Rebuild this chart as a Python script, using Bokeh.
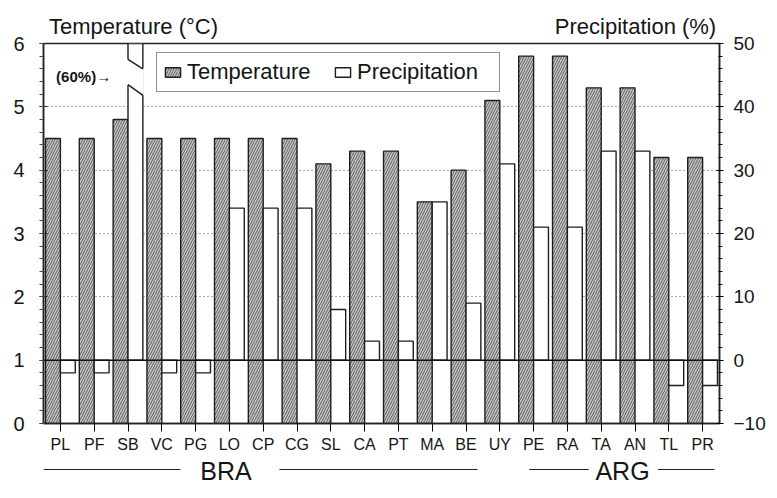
import numpy as np
from bokeh.plotting import figure
from bokeh.layouts import column
from bokeh.models import (Range1d, LinearAxis, SingleIntervalTicker, FixedTicker, Span,
                          Label, Legend, LegendItem, ColumnDataSource)
from bokeh.core.properties import value
from bokeh.embed import file_html
from bokeh.resources import INLINE

# ---------------- data ----------------
categories = ["PL", "PF", "SB", "VC", "PG", "LO", "CP", "CG", "SL", "CA",
              "PT", "MA", "BE", "UY", "PE", "RA", "TA", "AN", "TL", "PR"]
temperature = [4.5, 4.5, 4.8, 4.5, 4.5, 4.5, 4.5, 4.5, 4.1, 4.3,
               4.3, 3.5, 4.0, 5.1, 5.8, 5.8, 5.3, 5.3, 4.2, 4.2]
precipitation = [-2, -2, 60, -2, -2, 24, 24, 24, 8, 3,
                 3, 25, 9, 31, 21, 21, 33, 33, -4, -4]
groups = ["BRA"] * 13 + ["ARG"] * 7
temp_range = (0, 6)
precip_range = (-10, 50)
temp_title = "Temperature (\u00b0C)"
precip_title = "Precipitation (%)"

# ---------------- style ----------------
FONT = "Liberation Sans"
INK = "#151515"
BAR_W = 0.44
LEFT, RIGHT, FRAME_W, FRAME_H = 43, 42, 676, 380
TITLE_CENTERS_PX = (90, 592)   # centres of the two axis titles, px from frame left
n = len(categories)
idx = np.arange(n)
xr = Range1d(-0.5, n - 0.5)

# ---------------- main chart ----------------
p = figure(frame_width=FRAME_W, frame_height=FRAME_H, output_backend="svg", toolbar_location=None,
           x_range=xr, y_range=Range1d(*temp_range),
           min_border_left=LEFT, min_border_top=43, min_border_bottom=31, min_border_right=RIGHT)
p.extra_y_ranges = {"precip": Range1d(*precip_range)}
p.extra_x_ranges = {"title_px": Range1d(0, FRAME_W)}
p.background_fill_color = "white"
p.border_fill_color = "white"
p.outline_line_color = "#222222"
p.outline_line_width = 1.5

p.xgrid.visible = False
p.ygrid.ticker = FixedTicker(ticks=[2, 3, 4, 5])
p.ygrid.grid_line_color = "#555555"
p.ygrid.grid_line_dash = "1 3"
p.ygrid.grid_line_width = 1

src_t = ColumnDataSource(dict(x=idx - BAR_W / 2, top=temperature))
r_temp = p.vbar(x="x", top="top", bottom=0, width=BAR_W, source=src_t,
                fill_color="#c8c8c8", hatch_pattern="/", hatch_color="#404040",
                hatch_scale=5, hatch_weight=0.8, line_color="#1e1e1e", line_width=1.4)

src_p = ColumnDataSource(dict(x=idx + BAR_W / 2, top=precipitation))
r_prec = p.vbar(x="x", top="top", bottom=0, width=BAR_W, source=src_p, y_range_name="precip",
                fill_color="white", line_color="#1e1e1e", line_width=1.4)

# break marks for off-scale precipitation bars
pmax = precip_range[1]
for i, v in enumerate(precipitation):
    if v > pmax:
        x0, x1 = i, i + BAR_W
        p.patch([x0 - 0.03, x1 + 0.03, x1 + 0.03, x0 - 0.03],
                [pmax - 2.5, pmax - 4.0, pmax - 8.2, pmax - 6.5],
                y_range_name="precip", fill_color="white", line_color=None)
        p.multi_line([[x0, x1], [x0, x1]], [[pmax - 2.5, pmax - 4.0], [pmax - 6.5, pmax - 8.2]],
                     y_range_name="precip", line_color="#1e1e1e", line_width=1.4)
        p.add_layout(Label(x=i - BAR_W, y=temp_range[1], x_offset=-2, y_offset=-33,
                           text=f"({v}%)\u2192", text_align="right", text_baseline="middle",
                           text_font=FONT, text_font_size="15px", text_font_style="bold",
                           text_color=INK))

p.add_layout(Span(location=0, dimension="width", y_range_name="precip",
                  line_color="#111111", line_width=1.5))

# bottom axis (stations)
bx = p.below[0]
bx.ticker = FixedTicker(ticks=list(idx))
bx.major_label_overrides = {int(i): c for i, c in enumerate(categories)}
bx.major_tick_in = 0
bx.major_tick_out = 8
bx.minor_tick_line_color = None
bx.major_label_standoff = 4
bx.major_label_text_font = FONT
bx.major_label_text_font_size = "16px"
bx.major_label_text_color = INK
bx.axis_line_color = "#222222"
bx.axis_line_width = 1.5

# left axis (temperature)
ly = p.left[0]
ly.ticker = SingleIntervalTicker(interval=1, num_minor_ticks=5)
ly.major_tick_in = 4
ly.major_tick_out = 4
ly.minor_tick_in = 1
ly.minor_tick_out = 4
ly.major_label_standoff = 15
ly.major_label_text_font = FONT
ly.major_label_text_font_size = "20px"
ly.major_label_text_color = INK
ly.axis_line_color = "#222222"
ly.axis_line_width = 1.5
ly.major_tick_line_color = "#222222"
ly.minor_tick_line_color = "#444444"

# right axis (precipitation)
ry = LinearAxis(y_range_name="precip", ticker=SingleIntervalTicker(interval=10, num_minor_ticks=5))
ry.major_tick_in = 3
ry.major_tick_out = 4
ry.minor_tick_in = 1
ry.minor_tick_out = 3
ry.major_label_standoff = 10
ry.major_label_text_font = FONT
ry.major_label_text_font_size = "19px"
ry.major_label_text_color = INK
ry.axis_line_color = "#222222"
ry.axis_line_width = 1.5
p.add_layout(ry, "right")

# top axis carrying the two axis titles
ta = LinearAxis(x_range_name="title_px", ticker=FixedTicker(ticks=list(TITLE_CENTERS_PX)),
                major_label_overrides={TITLE_CENTERS_PX[0]: temp_title, TITLE_CENTERS_PX[1]: precip_title})
ta.axis_line_color = None
ta.major_tick_line_color = None
ta.minor_tick_line_color = None
ta.major_tick_in = 0
ta.major_tick_out = 0
ta.major_label_standoff = 5
ta.major_label_text_font = FONT
ta.major_label_text_font_size = "22px"
ta.major_label_text_color = INK
p.add_layout(ta, "above")

legend = Legend(items=[LegendItem(label="Temperature", renderers=[r_temp]),
                       LegendItem(label="Precipitation", renderers=[r_prec])],
                orientation="horizontal", location=(113, 331),
                border_line_color="#222222", border_line_width=1.2,
                background_fill_color="white", background_fill_alpha=1,
                padding=6, spacing=10, margin=0, label_standoff=5, label_width=136,
                glyph_width=19, glyph_height=12,
                label_text_font=FONT, label_text_font_size="22px", label_text_color=INK)
p.add_layout(legend)

# ---------------- bottom strip: country groups ----------------
BOT_H = 28
bot = figure(frame_width=FRAME_W, frame_height=BOT_H, x_range=xr, y_range=Range1d(0, BOT_H),
             x_axis_type=None, y_axis_type=None, output_backend="svg", toolbar_location=None,
             min_border_left=LEFT, min_border_right=RIGHT, min_border_top=0, min_border_bottom=0)
bot.outline_line_color = None
bot.grid.visible = False
bot.background_fill_color = "white"
bot.border_fill_color = "white"

group_layout = {
    "BRA": dict(center=4.9, lines=[(-0.5, 3.55), (6.48, 12.34)]),
    "ARG": dict(center=16.63, lines=[(13.87, 15.63), (17.68, 19.35)]),
}
names = list(dict.fromkeys(groups))
bot.text(x=[group_layout[g]["center"] for g in names], y=[13] * len(names), text=names,
         text_font=value(FONT), text_font_size="25px", text_align="center",
         text_baseline="alphabetic", text_color=INK)
segs = [s for g in names for s in group_layout[g]["lines"]]
bot.segment(x0=[a for a, b in segs], x1=[b for a, b in segs], y0=[14] * len(segs), y1=[14] * len(segs),
            line_color="#222222", line_width=1.2)

layout = column(p, bot, spacing=0)
open("out.html", "w").write(file_html(layout, INLINE))
